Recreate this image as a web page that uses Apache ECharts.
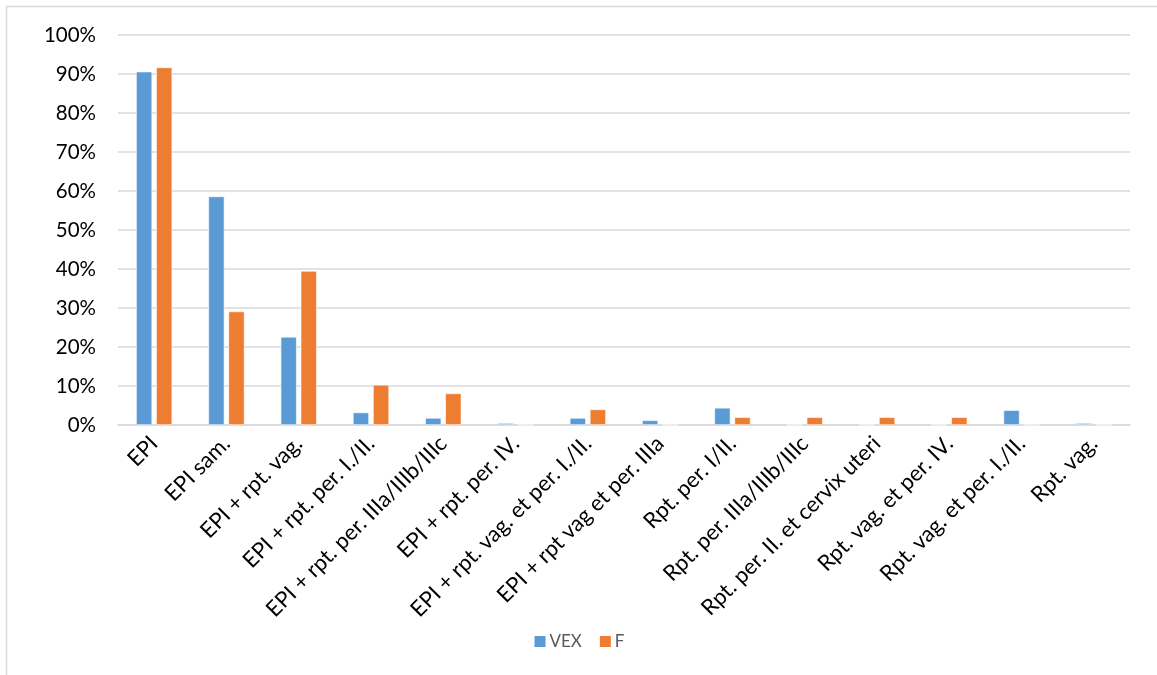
<!DOCTYPE html>
<html>
<head>
<meta charset="utf-8">
<script src="https://cdn.jsdelivr.net/npm/echarts@6/dist/echarts.min.js"></script>
<style>
  html, body { margin: 0; padding: 0; background: #fff; }
  #chart { width: 1157px; height: 675px; }
</style>
</head>
<body>
<div id="chart"></div>
<script>
// Categories of the x axis
const categories = [
  'EPI',
  'EPI sam.',
  'EPI + rpt. vag.',
  'EPI + rpt. per. I./II.',
  'EPI + rpt. per. IIIa/IIIb/IIIc',
  'EPI + rpt. per. IV.',
  'EPI + rpt. vag. et per. I./II.',
  'EPI + rpt vag et per. IIIa',
  'Rpt. per. I/II.',
  'Rpt. per. IIIa/IIIb/IIIc',
  'Rpt. per. II. et cervix uteri',
  'Rpt. vag. et per. IV.',
  'Rpt. vag. et per. I./II.',
  'Rpt. vag.'
];

// Shares in percent
const vexValues = [90.6, 58.6, 22.6, 3.2, 1.8, 0.5, 1.8, 1.2, 4.4, 0, 0, 0, 3.8, 0.5];
const fValues   = [91.7, 29.1, 39.5, 10.3, 8.1, 0, 4.0, 0, 2.0, 2.0, 2.0, 2.0, 0, 0];

// Y axis ticks
const yTicks = [0, 10, 20, 30, 40, 50, 60, 70, 80, 90, 100];

const FONT = 'Lato, "Open Sans", sans-serif';

const chart = echarts.init(document.getElementById('chart'), null, { renderer: 'canvas' });

chart.setOption({
  backgroundColor: '#ffffff',
  animation: false,
  textStyle: { fontFamily: FONT },
  graphic: [
    {
      type: 'rect',
      shape: { x: 6.5, y: 6.5, width: 1300, height: 800 },
      style: { fill: 'none', stroke: '#d9d9d9', lineWidth: 1.5 },
      silent: true,
      z: -10
    }
  ],
  legend: {
    data: ['VEX', 'F'],
    bottom: 20,
    left: 'center',
    itemWidth: 13,
    itemHeight: 13,
    itemGap: 16,
    icon: 'rect',
    textStyle: { color: '#595959', fontSize: 17, fontFamily: FONT, padding: [0, 0, 0, -2] }
  },
  grid: {
    left: 118,
    right: 27,
    top: 35,
    bottom: 250,
    containLabel: false
  },
  xAxis: {
    type: 'category',
    data: categories,
    axisLine: { show: true, lineStyle: { color: '#d9d9d9', width: 1.5 } },
    axisTick: { show: false },
    axisLabel: {
      interval: 0,
      rotate: 45,
      margin: 15,
      color: '#000000',
      fontSize: 22,
      fontFamily: FONT
    }
  },
  yAxis: {
    type: 'value',
    min: yTicks[0],
    max: yTicks[yTicks.length - 1],
    interval: yTicks[1] - yTicks[0],
    axisLine: { show: false },
    axisTick: { show: false },
    splitLine: { lineStyle: { color: '#d9d9d9', width: 1.5 } },
    axisLabel: {
      formatter: v => v + '%',
      color: '#000000',
      fontSize: 20.5,
      fontFamily: FONT,
      margin: 22
    }
  },
  series: [
    {
      name: 'VEX',
      type: 'bar',
      data: vexValues,
      barGap: '25%',
      barCategoryGap: '50%',
      itemStyle: { color: '#5B9BD5', borderColor: '#ffffff', borderWidth: 0.6 }
    },
    {
      name: 'F',
      type: 'bar',
      data: fValues,
      itemStyle: { color: '#ED7D31', borderColor: '#ffffff', borderWidth: 0.6 }
    }
  ]
});
</script>
</body>
</html>
